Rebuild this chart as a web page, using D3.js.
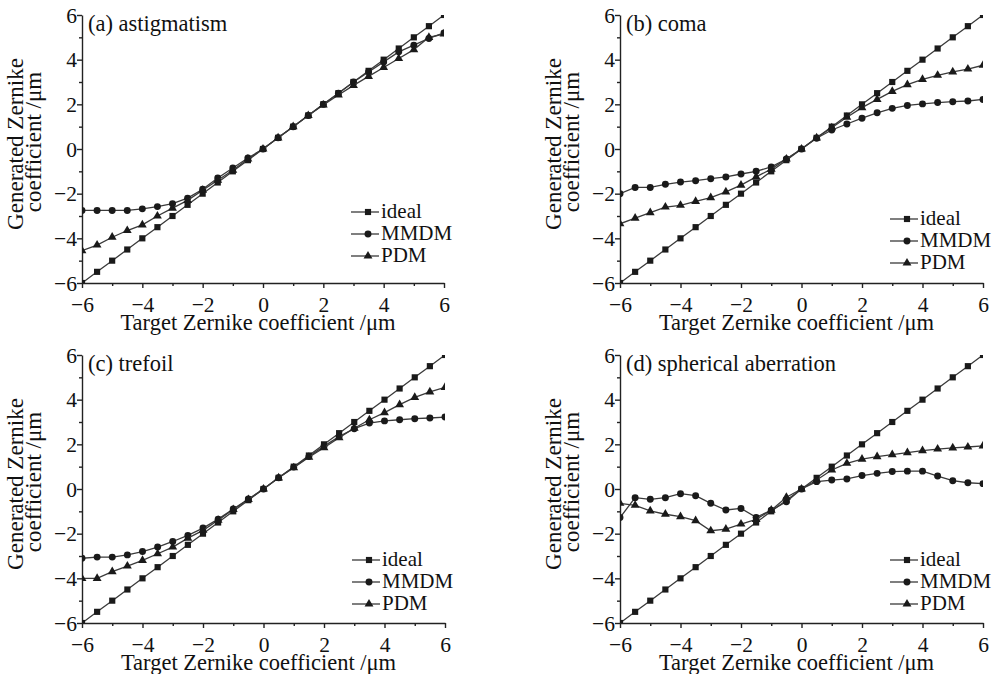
<!DOCTYPE html>
<html>
<head>
<meta charset="utf-8">
<title>Zernike coefficients</title>
<script src="https://d3js.org/d3.v7.min.js"></script>
<style>
  body { margin: 0; background: #fff; }
  .curve { fill: none; stroke: #3a3a3a; stroke-width: 1.3; }
  .mark { fill: #1a1a1a; }
  .axis path, .axis line { stroke: #222; stroke-width: 1.4; }
</style>
</head>
<body>
<div id="chart"></div>
<script>
"use strict"

// valores alvo (eixo x), iguais nos quatro paineis
var alvos = [-6, -5.5, -5, -4.5, -4, -3.5, -3, -2.5, -2, -1.5, -1, -0.5, 0,
             0.5, 1, 1.5, 2, 2.5, 3, 3.5, 4, 4.5, 5, 5.5, 6];
var ideal = alvos.slice();

var titulos = ["(a) astigmatism", "(b) coma", "(c) trefoil", "(d) spherical aberration"];
var series = ["ideal", "MMDM", "PDM"];
var ticksMaiores = [-6, -4, -2, 0, 2, 4, 6];
var ticksMenores = [-5, -3, -1, 1, 3, 5];

var mmdmA = [-2.75, -2.75, -2.75, -2.75, -2.68, -2.58, -2.45, -2.2, -1.8, -1.3, -0.85, -0.4, 0,
             0.5, 1.0, 1.5, 2.0, 2.5, 3.0, 3.45, 3.9, 4.35, 4.65, 4.95, 5.2];
var pdmA  = [-4.55, -4.3, -3.95, -3.65, -3.4, -3.0, -2.65, -2.3, -1.85, -1.4, -0.95, -0.45, 0,
             0.5, 1.0, 1.5, 1.97, 2.42, 2.85, 3.25, 3.65, 4.05, 4.45, 5.0, 5.15];

var mmdmB = [-2.0, -1.72, -1.72, -1.58, -1.48, -1.42, -1.33, -1.25, -1.12, -1.0, -0.8, -0.45, 0,
             0.48, 0.85, 1.12, 1.38, 1.62, 1.82, 1.95, 2.02, 2.08, 2.12, 2.15, 2.22];
var pdmB  = [-3.35, -3.1, -2.85, -2.6, -2.52, -2.35, -2.18, -1.92, -1.62, -1.25, -0.9, -0.45, 0,
             0.5, 0.95, 1.42, 1.85, 2.22, 2.58, 2.88, 3.12, 3.3, 3.45, 3.58, 3.75];

var mmdmC = [-3.1, -3.05, -3.05, -2.95, -2.8, -2.6, -2.35, -2.08, -1.75, -1.35, -0.9, -0.45, 0,
             0.5, 0.98, 1.45, 1.92, 2.35, 2.7, 2.95, 3.05, 3.1, 3.15, 3.18, 3.22];
var pdmC  = [-4.0, -4.0, -3.7, -3.45, -3.2, -2.9, -2.6, -2.2, -1.85, -1.4, -0.92, -0.47, 0,
             0.5, 0.95, 1.42, 1.85, 2.3, 2.72, 3.1, 3.42, 3.78, 4.1, 4.35, 4.55];

var mmdmD = [-1.28, -0.39, -0.46, -0.39, -0.21, -0.3, -0.64, -0.94, -0.87, -1.27, -0.95, -0.57, 0,
             0.33, 0.4, 0.45, 0.6, 0.7, 0.78, 0.8, 0.8, 0.58, 0.37, 0.28, 0.24];
var pdmD  = [-0.64, -0.73, -0.98, -1.13, -1.24, -1.42, -1.87, -1.8, -1.57, -1.36, -0.95, -0.37, 0,
             0.4, 0.85, 1.15, 1.34, 1.45, 1.54, 1.63, 1.72, 1.79, 1.84, 1.88, 1.93];

var mmdm = [mmdmA, mmdmB, mmdmC, mmdmD];
var pdm = [pdmA, pdmB, pdmC, pdmD];

// posicao de cada painel (area do grafico em pixels)
var paineis = [
  {x0: 82,  x1: 444, y0: 15,  y1: 283, legenda: -71},
  {x0: 620, x1: 983, y0: 15,  y1: 283, legenda: -64},
  {x0: 82,  x1: 445, y0: 355, y1: 623, legenda: -63},
  {x0: 620, x1: 983, y0: 355, y1: 623, legenda: -63}
];

var simbolos = [d3.symbolSquare, d3.symbolCircle, d3.symbolTriangle];
var tamanhos = [38, 38, 34];
var fonte = '"Liberation Serif", "Times New Roman", "DejaVu Serif", serif';

var svg = d3.select('#chart').append('svg')
    .attr('width', 993).attr('height', 674)
    .style('font-family', fonte);

var menos = function(v) { return v < 0 ? '\u2212' + Math.abs(v) : '' + v; };

paineis.forEach(function(p, i) {
  var x = d3.scaleLinear().domain([-6, 6]).range([p.x0, p.x1]);
  var y = d3.scaleLinear().domain([-6, 6]).range([p.y1, p.y0]);

  var g = svg.append('g');

  g.append('clipPath').attr('id', 'clip' + i)
    .append('rect')
    .attr('x', p.x0).attr('y', p.y0)
    .attr('width', p.x1 - p.x0).attr('height', p.y1 - p.y0);

  // eixos: ticks maiores com rotulo, menores sem
  var eixoX = g.append('g').attr('class', 'axis')
      .attr('transform', 'translate(0,' + p.y1 + ')')
      .call(d3.axisBottom(x).tickValues(ticksMaiores).tickSize(5).tickSizeOuter(0).tickFormat(menos));
  eixoX.selectAll('text').attr('y', 29).attr('dy', 0);
  g.append('g').attr('class', 'axis')
      .attr('transform', 'translate(0,' + p.y1 + ')')
      .call(d3.axisBottom(x).tickValues(ticksMenores).tickSize(3).tickFormat(''))
      .select('.domain').remove();

  var eixoY = g.append('g').attr('class', 'axis')
      .attr('transform', 'translate(' + p.x0 + ',0)')
      .call(d3.axisLeft(y).tickValues(ticksMaiores).tickSize(5).tickSizeOuter(0).tickFormat(menos));
  eixoY.selectAll('text').attr('x', -5).attr('dy', '0.33em');
  g.append('g').attr('class', 'axis')
      .attr('transform', 'translate(' + p.x0 + ',0)')
      .call(d3.axisLeft(y).tickValues(ticksMenores).tickSize(3).tickFormat(''))
      .select('.domain').remove();
  g.selectAll('.axis').attr('font-family', fonte).attr('font-size', 21.5);
  g.selectAll('.axis text').attr('fill', '#111');

  // titulos dos eixos
  g.append('text')
    .attr('x', (p.x0 + p.x1) / 2 - 5).attr('y', p.y1 + 47)
    .attr('text-anchor', 'middle').attr('font-size', 22.5).attr('fill', '#111')
    .text('Target Zernike coefficient /\u03bcm');

  var cy = (p.y0 + p.y1) / 2 - 5;
  g.append('text')
    .attr('transform', 'translate(' + (p.x0 - 59) + ',' + cy + ') rotate(-90)')
    .attr('text-anchor', 'middle').attr('font-size', 23).attr('fill', '#111')
    .text('Generated Zernike');
  g.append('text')
    .attr('transform', 'translate(' + (p.x0 - 41) + ',' + (cy - 2) + ') rotate(-90)')
    .attr('text-anchor', 'middle').attr('font-size', 23).attr('fill', '#111')
    .text('coefficient /\u03bcm');

  g.append('text')
    .attr('x', p.x0 + 6).attr('y', p.y0 + 16)
    .attr('font-size', 22.5).attr('fill', '#111')
    .text(titulos[i]);

  // curvas
  var dados = [ideal, mmdm[i], pdm[i]];
  var linha = d3.line().x(function(d, k) { return x(alvos[k]); }).y(function(d) { return y(d); });
  var area = g.append('g').attr('clip-path', 'url(#clip' + i + ')');

  dados.forEach(function(serie, s) {
    area.append('path').attr('class', 'curve').attr('d', linha(serie));
    area.selectAll('.m' + s).data(serie).enter()
      .append('path').attr('class', 'mark m' + s)
      .attr('d', d3.symbol().type(simbolos[s]).size(tamanhos[s]))
      .attr('transform', function(d, k) { return 'translate(' + x(alvos[k]) + ',' + y(d) + ')'; });
  });

  // legenda
  var lx0 = p.x1 - 93, lx1 = p.x1 - 65;
  series.forEach(function(nome, s) {
    var ly = p.y1 + p.legenda + s * 22;
    g.append('line').attr('x1', lx0).attr('x2', lx1).attr('y1', ly).attr('y2', ly)
      .attr('stroke', '#3a3a3a').attr('stroke-width', 1.3);
    g.append('path').attr('class', 'mark')
      .attr('d', d3.symbol().type(simbolos[s]).size(tamanhos[s]))
      .attr('transform', 'translate(' + ((lx0 + lx1) / 2 + 3) + ',' + ly + ')');
    g.append('text').attr('x', lx1 + 2).attr('y', ly + 6)
      .attr('font-size', 21).attr('fill', '#111').text(nome);
  });
});
</script>
</body>
</html>
